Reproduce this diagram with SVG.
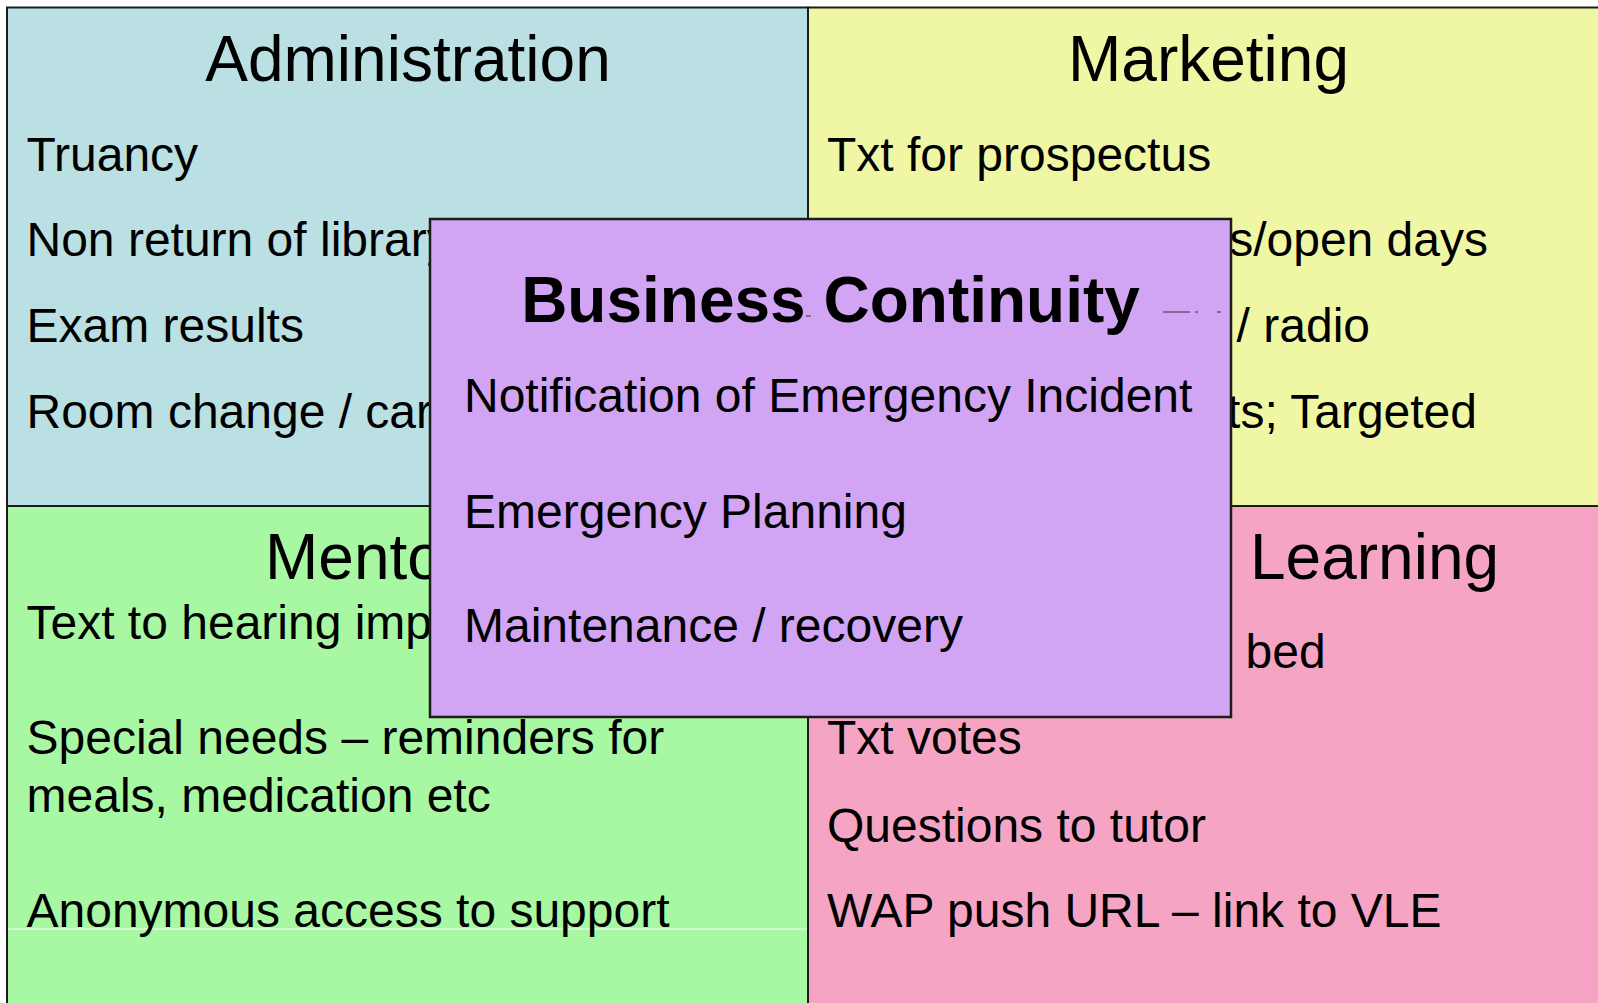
<svg xmlns="http://www.w3.org/2000/svg" width="1598" height="1003" viewBox="0 0 1598 1003">
<style>
text { font-family: "Liberation Sans", Arial, Helvetica, sans-serif; fill: #000; }
.title { font-size: 64px; }
.body { font-size: 48px; }
.bold { font-weight: bold; }
.quad { stroke: #1c1c1c; stroke-width: 2; }
.mid { text-anchor: middle; }
.end { text-anchor: end; }
</style>
<rect width="1598" height="1003" fill="#ffffff"/>
<g id="administration">
<rect class="quad" x="7" y="7.5" width="801" height="498.5" fill="#BAE0E3"/>
<text class="title mid" x="408" y="81">Administration</text>
<text class="body" x="26.5" y="170.5">Truancy</text>
<text class="body" x="26.5" y="256.3">Non return of library</text>
<text class="body" x="26.5" y="342">Exam results</text>
<text class="body" x="26.5" y="428">Room change / car</text>
</g>
<g id="marketing">
<rect class="quad" x="808" y="7.5" width="800" height="498.5" fill="#F0F7A4"/>
<text class="title mid" x="1208.5" y="81">Marketing</text>
<text class="body" x="827" y="170.5">Txt for prospectus</text>
<text class="body end" x="1488" y="256.3">s/open days</text>
<text class="body end" x="1370" y="342">/ radio</text>
<text class="body end" x="1477" y="428">ts; Targeted</text>
</g>
<g id="mentoring">
<rect class="quad" x="7" y="506" width="801" height="510" fill="#A8F7A3"/>
<line x1="8" y1="929" x2="807" y2="929" stroke="#ffffff" stroke-width="1"/>
<text class="title" x="265" y="578.5">Mento</text>
<text class="body" x="26.5" y="639">Text to hearing imp</text>
<text class="body" x="26.5" y="754">Special needs – reminders for</text>
<text class="body" x="26.5" y="812">meals, medication etc</text>
<text class="body" x="26.5" y="927">Anonymous access to support</text>
</g>
<g id="learning">
<rect class="quad" x="808" y="506" width="800" height="510" fill="#F5A4C4"/>
<text class="title" x="1250" y="578.5">Learning</text>
<text class="body" x="1245.5" y="668">bed</text>
<text class="body" x="827" y="754">Txt votes</text>
<text class="body" x="827" y="842">Questions to tutor</text>
<text class="body" x="827" y="927">WAP push URL – link to VLE</text>
</g>
<g id="business-continuity">
<rect x="430" y="219" width="801" height="498" fill="#D1A5F3" stroke="#1c1c1c" stroke-width="2.5"/>
<text class="title bold mid" x="830.5" y="322">Business Continuity</text>
<path d="M806 316H811M1163 312H1190M1195 312H1198M1217 312H1221" stroke="#333" stroke-width="1" fill="none"/>
<text class="body" x="464" y="412">Notification of Emergency Incident</text>
<text class="body" x="464" y="527.5">Emergency Planning</text>
<text class="body" x="464" y="642">Maintenance / recovery</text>
</g>
<g id="connectors"></g>
</svg>
